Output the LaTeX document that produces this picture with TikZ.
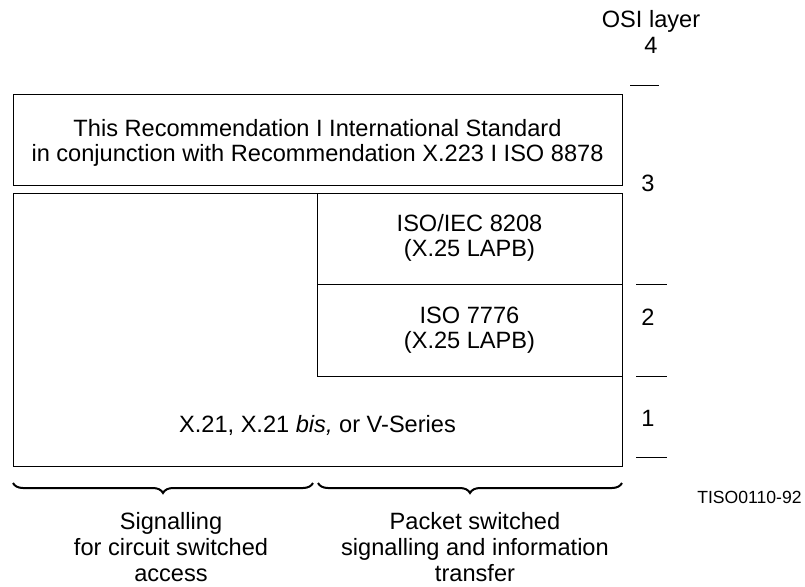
\documentclass[tikz,border=0pt]{standalone}
\usepackage{fontspec}
\setmainfont{Liberation Sans}
\usetikzlibrary{decorations.pathreplacing}
\begin{document}
\begin{tikzpicture}[x=0.5pt,y=-0.5pt,line width=0.5pt,
  every node/.style={font=\fontsize{11.8}{12.8}\selectfont,align=center},
  brace/.style={decorate,decoration={brace,mirror,amplitude=5pt},line width=1pt}]
\useasboundingbox (0,0) rectangle (805,586);

\draw (13,94) rectangle (622,185);
\node (top) at (317.5,143) {This Recommendation I International Standard\\in conjunction with Recommendation X.223 I ISO 8878};

\draw (13,193) rectangle (622,466);
\draw (317,193) -- (317,376) -- (622,376);
\draw (317,284) -- (622,284);
\node (iec) at (469.5,238) {ISO/IEC 8208\\(X.25 LAPB)};
\node (iso) at (469.5,330) {ISO 7776\\(X.25 LAPB)};
\node (phy) at (317.5,425) {X.21, X.21 \textit{bis,} or V-Series};

\node (osi) at (651,32) {OSI layer\\4};
\draw (630,85) -- (659,85);
\node (l3) at (648,183) {3};
\draw (636,284) -- (667,284);
\node (l2) at (648,317) {2};
\draw (636,376) -- (667,376);
\node (l1) at (648,418) {1};
\draw (636,457) -- (667,457);
\node[font=\fontsize{8.8}{10}\selectfont] (code) at (749.5,497) {TISO0110-92};

\draw[brace] (13,483) -- (313,483);
\draw[brace] (318,483) -- (622,483);
\node[font=\fontsize{11.8}{13.2}\selectfont] (circ) at (171,547) {Signalling\\for circuit switched\\access};
\node[font=\fontsize{11.8}{13.2}\selectfont] (pack) at (475,547) {Packet switched\\signalling and information\\transfer};
\end{tikzpicture}
\end{document}
